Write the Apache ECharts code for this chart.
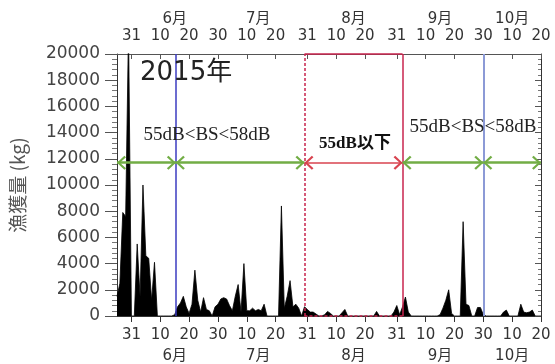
<!DOCTYPE html>
<html>
<head>
<meta charset="utf-8">
<script src="https://cdn.jsdelivr.net/npm/echarts@6/dist/echarts.min.js"></script>
<style>
  html, body { margin: 0; padding: 0; background: #fff; }
  #chart { width: 555px; height: 364px; }
</style>
</head>
<body>
<div id="chart"></div>
<script>
// day of year 2015; x axis runs 5/26 .. 10/20
var startDay = 146;
var endDay = 293;

// daily catch (kg)
var mayCatch = [1500, 2500, 7900, 7600, 22000, 0];                      // 5/26-5/31
var junCatch = [0, 5500, 1500, 10000, 4600, 4400, 1200, 4100, 0, 0,
                0, 0, 0, 0, 100, 700, 1000, 1500, 700, 200,
                900, 3500, 1200, 300, 1400, 500, 400, 0, 700, 900];
var julCatch = [1300, 1400, 1300, 800, 400, 1500, 2400, 300, 4000, 400,
                400, 600, 400, 500, 400, 900, 0, 0, 0, 0,
                0, 8400, 600, 1500, 2700, 700, 900, 600, 0, 700, 500];
var augCatch = [300, 300, 150, 0, 0, 100, 350, 200, 0, 0,
                0, 250, 500, 0, 0, 0, 0, 0, 0, 0,
                0, 0, 0, 350, 0, 0, 0, 0, 0, 300, 800];
var sepCatch = [100, 700, 1450, 300, 0, 0, 0, 0, 0, 0,
                0, 0, 0, 0, 100, 600, 1200, 2000, 200, 0,
                0, 0, 7200, 900, 800, 0, 0, 650, 650, 100];
var octCatch = [0, 0, 0, 0, 0, 0, 300, 450, 0, 0,
                0, 0, 900, 300, 250, 300, 450, 0, 0, 0];

// x axis ticks
var tickDays = [151, 161, 171, 181, 191, 201, 212, 222, 232, 243, 253, 263, 273, 283, 293];
var tickLabels = ['31', '10', '20', '30', '10', '20', '31', '10', '20', '31', '10', '20', '30', '10', '20'];
var monthDays = [166, 195, 228, 258, 283];
var monthLabels = ['6月', '7月', '8月', '9月', '10月'];

// periods
var bsLines = [166.4, 273];
var lowStart = 211;
var lowEnd = 245;
var arrowLevel = 11700;

var allCatch = mayCatch.concat(junCatch, julCatch, augCatch, sepCatch, octCatch);
var catchData = allCatch.map(function (v, i) { return [startDay + i, v]; });

function tickText(v) {
  var i = tickDays.indexOf(v);
  return i < 0 ? '' : tickLabels[i];
}
function monthText(v) {
  var i = monthDays.indexOf(v);
  return i < 0 ? '' : monthLabels[i];
}

// open chevron, tip at the centre of its box so it sits on the line end
var chevron = 'path://M0,0 L10,9 L8,11 L0,3.5 L-8,11 L-10,9 Z M0,-11 L0.01,-11 L0,-10.99 Z';
var green = '#72ad45';
var red = '#d8434f';
var boxRed = '#c8244e';

var numFont = 'DejaVu Sans, Noto Sans CJK JP, sans-serif';

var chart = echarts.init(document.getElementById('chart'));

var option = {
  animation: false,
  backgroundColor: '#fff',
  grid: { left: 117, right: 14, top: 54, bottom: 48, containLabel: false },
  xAxis: [
    {
      type: 'value', min: startDay, max: endDay, position: 'bottom',
      axisLine: { lineStyle: { color: '#333', width: 1 } },
      axisTick: { customValues: tickDays, length: 6, lineStyle: { color: '#333' } },
      axisLabel: { customValues: tickDays, formatter: tickText, margin: 12,
                   fontSize: 15, color: '#333', fontFamily: numFont },
      splitLine: { show: false }
    },
    {
      type: 'value', min: startDay, max: endDay, position: 'bottom',
      axisLine: { show: false }, axisTick: { show: false },
      axisLabel: { customValues: monthDays, formatter: monthText, margin: 33,
                   fontSize: 15, color: '#333', fontFamily: numFont },
      splitLine: { show: false }
    },
    {
      type: 'value', min: startDay, max: endDay, position: 'top',
      axisLine: { lineStyle: { color: '#555', width: 1 } },
      axisTick: { customValues: tickDays, inside: true, length: 5, lineStyle: { color: '#555' } },
      axisLabel: { customValues: tickDays, formatter: tickText, margin: 10,
                   fontSize: 15, color: '#333', fontFamily: numFont },
      splitLine: { show: false }
    },
    {
      type: 'value', min: startDay, max: endDay, position: 'top',
      axisLine: { show: false }, axisTick: { show: false },
      axisLabel: { customValues: monthDays, formatter: monthText, margin: 27,
                   fontSize: 15, color: '#333', fontFamily: numFont },
      splitLine: { show: false }
    }
  ],
  yAxis: [
    {
      type: 'value', min: 0, max: 20000, interval: 2000, position: 'left',
      name: '漁獲量 (kg)', nameLocation: 'middle', nameGap: 90,
      nameTextStyle: { fontSize: 19, color: '#555', fontFamily: 'Noto Sans CJK JP, DejaVu Sans, sans-serif' },
      axisLine: { show: true, lineStyle: { color: '#333', width: 1 } },
      axisTick: { show: true, length: 12, lineStyle: { color: '#555' } },
      minorTick: { show: true, splitNumber: 5, length: 5, lineStyle: { color: '#777' } },
      axisLabel: { margin: 17, fontSize: 17, color: '#444', fontFamily: numFont,
                   formatter: function (v) { return String(v); } },
      splitLine: { show: false }
    },
    {
      type: 'value', min: 0, max: 20000, interval: 2000, position: 'right',
      axisLine: { show: true, lineStyle: { color: '#333', width: 1 } },
      axisTick: { show: true, inside: true, length: 6, lineStyle: { color: '#555' } },
      minorTick: { show: true, splitNumber: 5, length: 3, lineStyle: { color: '#777' } },
      axisLabel: { show: false },
      splitLine: { show: false }
    }
  ],
  series: [
    {
      name: '漁獲量',
      type: 'line',
      data: catchData,
      symbol: 'none',
      clip: true,
      lineStyle: { color: '#000', width: 0.8 },
      areaStyle: { color: '#000', opacity: 1 },
      z: 2
    },
    {
      name: 'periods',
      type: 'line',
      data: [],
      z: 5,
      markLine: {
        silent: true,
        symbol: 'none',
        label: { show: false },
        data: [
          { xAxis: bsLines[0], lineStyle: { color: '#3b3bc0', width: 1.5, type: 'solid' } },
          { xAxis: bsLines[1], lineStyle: { color: '#8c9ad6', width: 2, type: 'solid' } },
          [{ coord: [lowStart, 0] }, { coord: [lowStart, 20000], lineStyle: { color: boxRed, width: 1.5, type: [3, 2] } }],
          [{ coord: [lowStart, 0] }, { coord: [lowEnd, 0], lineStyle: { color: boxRed, width: 1.5, type: [3, 2] } }],
          [{ coord: [lowStart, 20000] }, { coord: [lowEnd, 20000], lineStyle: { color: boxRed, width: 1.5, type: 'solid' } }],
          [{ coord: [lowEnd, 0] }, { coord: [lowEnd, 20000], lineStyle: { color: boxRed, width: 1.5, type: 'solid' } }]
        ]
      }
    },
    {
      name: 'arrows',
      type: 'line',
      data: [],
      z: 6,
      markLine: {
        silent: true,
        symbol: [chevron, chevron],
        symbolSize: [14, 18],
        label: { show: false },
        data: [
          [{ coord: [startDay, arrowLevel] }, { coord: [bsLines[0], arrowLevel], lineStyle: { color: green, width: 2.5, type: 'solid' } }],
          [{ coord: [bsLines[0], arrowLevel] }, { coord: [lowStart, arrowLevel], lineStyle: { color: green, width: 2.5, type: 'solid' } }],
          [{ coord: [lowStart, arrowLevel] }, { coord: [lowEnd, arrowLevel], lineStyle: { color: red, width: 1.5, type: 'solid' } }],
          [{ coord: [lowEnd, arrowLevel] }, { coord: [bsLines[1], arrowLevel], lineStyle: { color: green, width: 2.5, type: 'solid' } }],
          [{ coord: [bsLines[1], arrowLevel] }, { coord: [endDay, arrowLevel], lineStyle: { color: green, width: 2.5, type: 'solid' } }]
        ]
      }
    }
  ],
  graphic: [
    { type: 'text', left: 140, top: 60, z: 10,
      style: { text: '2015年', fontSize: 26, fill: '#222', fontFamily: numFont } },
    { type: 'text', x: 207, y: 135, z: 10,
      style: { text: '55dB<BS<58dB', fontSize: 19, fill: '#222', align: 'center', verticalAlign: 'middle',
               fontFamily: 'Liberation Serif, DejaVu Serif, serif' } },
    { type: 'text', x: 473, y: 127, z: 10,
      style: { text: '55dB<BS<58dB', fontSize: 19, fill: '#222', align: 'center', verticalAlign: 'middle',
               fontFamily: 'Liberation Serif, DejaVu Serif, serif' } },
    { type: 'text', x: 355, y: 144, z: 10,
      style: { text: '55dB以下', fontSize: 17, fontWeight: 'bold', fill: '#111', align: 'center', verticalAlign: 'middle',
               fontFamily: 'Liberation Serif, Noto Sans CJK JP, serif' } }
  ]
};

chart.setOption(option);
</script>
</body>
</html>
